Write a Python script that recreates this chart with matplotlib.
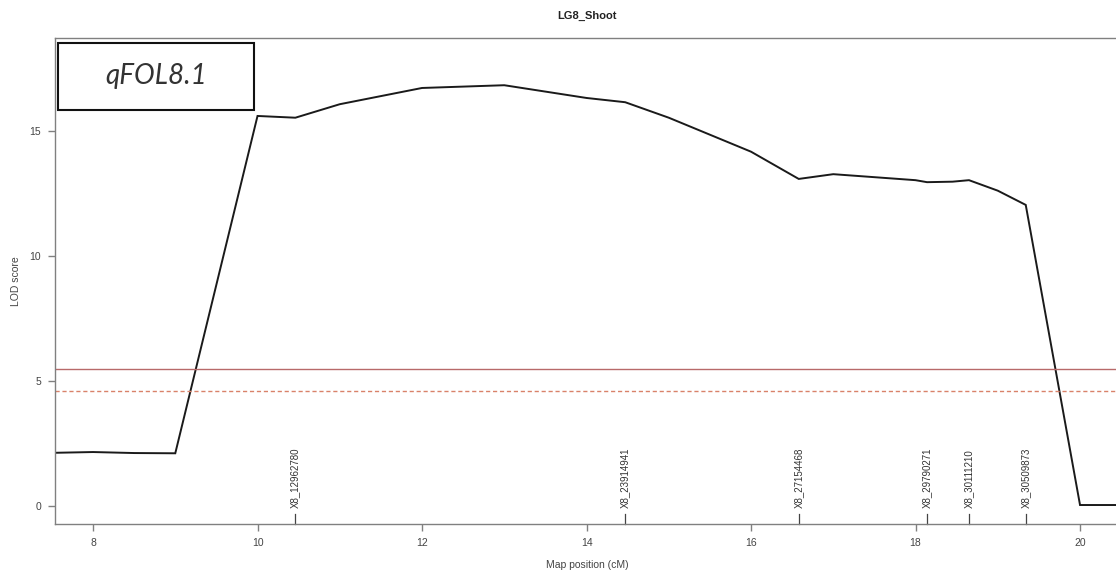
import matplotlib
matplotlib.use("Agg")
import matplotlib.pyplot as plt
from matplotlib.patches import Rectangle
import matplotlib.transforms as mtransforms

plt.rcParams.update({
    "font.family": ["Liberation Sans", "DejaVu Sans"],
    "font.size": 7.5,
})

# LOD profile along LG8
pos_cm = [7.54, 8.0, 8.5, 9.0, 10.0, 10.46, 11.0, 12.0, 13.0, 14.0, 14.47,
          15.0, 16.0, 16.58, 17.0, 18.0, 18.14, 18.45, 18.65, 19.0, 19.34,
          20.0, 20.47]
lod = [2.12, 2.15, 2.11, 2.10, 15.60, 15.53, 16.07, 16.72, 16.83, 16.32, 16.15,
       15.53, 14.17, 13.08, 13.27, 13.03, 12.95, 12.97, 13.03, 12.61, 12.04,
       0.03, 0.03]

# significance thresholds
thr_solid = 5.47
thr_dashed = 4.58

marker_names = ["X8_12962780", "X8_23914941", "X8_27154468",
                "X8_29790271", "X8_30111210", "X8_30509873"]
marker_pos = [10.46, 14.47, 16.58, 18.14, 18.65, 19.34]

xticks = [8, 10, 12, 14, 16, 18, 20]
yticks = [0, 5, 10, 15]

AX_COL = "#808080"
TXT_COL = "#444444"

fig = plt.figure(figsize=(11.16, 5.74), dpi=100)
ax = fig.add_axes([0.0493, 0.0871, 0.9534, 0.8467])

ax.plot(pos_cm, lod, color="#1a1a1a", lw=1.4, solid_joinstyle="miter")
ax.axhline(thr_solid, color="#b86a6a", lw=1.0)
ax.axhline(thr_dashed, color="#d9826a", lw=1.0, ls=(0, (3, 2)))

ax.set_xlim(7.538, 20.474)
ax.set_ylim(-0.73, 18.72)

# marker ticks along the bottom with vertical names
trans = mtransforms.blended_transform_factory(ax.transData, ax.transAxes)
for name, p in zip(marker_names, marker_pos):
    ax.plot([p, p], [0, 0.021], transform=trans, color=TXT_COL, lw=0.9,
            clip_on=False)
    ax.text(p, 0.033, name, transform=trans, rotation=90, ha="center",
            va="bottom", fontsize=7, color="#333333")

ax.set_xticks(xticks)
ax.set_yticks(yticks)
ax.tick_params(colors=AX_COL, labelcolor=TXT_COL, length=5, width=1,
               labelsize=7.5, pad=5)
for s in ax.spines.values():
    s.set_color(AX_COL)
    s.set_linewidth(1)

ax.set_xlabel("Map position (cM)", fontsize=7.5, color=TXT_COL, labelpad=9)
ax.set_ylabel("LOD score", fontsize=7.5, color=TXT_COL, labelpad=6)
fig.text(0.526, 0.972, "LG8_Shoot", ha="center", va="center",
         fontsize=8, fontweight="bold", color="#222222")

# QTL name box
ax.add_patch(Rectangle((0.003, 0.852), 0.184, 0.138, transform=ax.transAxes,
                       fill=False, edgecolor="#111111", lw=1.5))
ax.text(0.095, 0.921, "qFOL8.1", transform=ax.transAxes, ha="center",
        va="center", fontsize=20, style="italic",
        family=["Lato", "DejaVu Sans"], color="#333333")

fig.savefig("out.png", dpi=100, facecolor="white")
